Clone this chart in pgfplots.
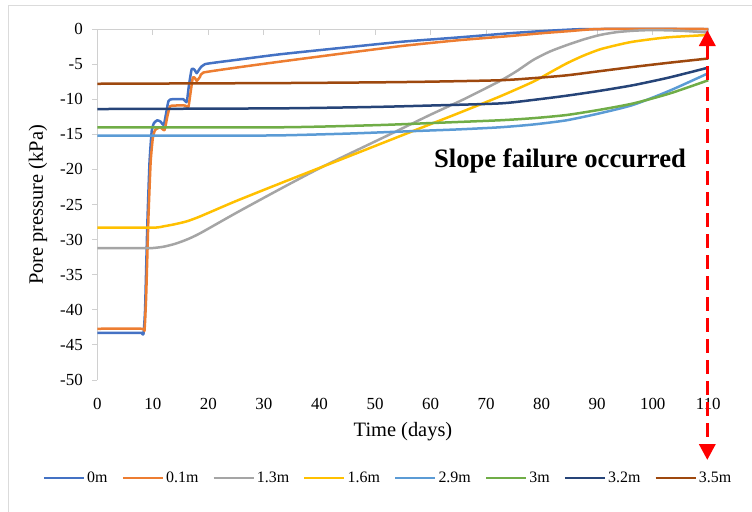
\documentclass[border=0pt]{standalone}
\usepackage{fontspec}
\setmainfont{Liberation Serif}
\usepackage{pgfplots}
\pgfplotsset{compat=1.18}
\usetikzlibrary{arrows.meta}
\definecolor{c0}{RGB}{68,114,196}
\definecolor{c1}{RGB}{237,125,49}
\definecolor{c2}{RGB}{165,165,165}
\definecolor{c3}{RGB}{255,192,0}
\definecolor{c4}{RGB}{91,155,213}
\definecolor{c5}{RGB}{112,173,71}
\definecolor{c6}{RGB}{38,68,120}
\definecolor{c7}{RGB}{158,72,14}
\definecolor{axgray}{RGB}{208,208,208}
\begin{document}
\begin{tikzpicture}
\path[use as bounding box] (0bp,0bp) rectangle (752bp,-512bp);
\draw[draw=black!14, line width=1bp] (8bp,-512bp) -- (8bp,-5bp) -- (752bp,-5bp);
\begin{axis}[
  at={(97.3bp,-380bp)}, anchor=south west,
  scale only axis, width=611bp, height=351bp,
  xmin=0, xmax=110, ymin=-50, ymax=0,
  axis x line*=bottom, axis y line*=left,
  x axis line style={draw=none},
  y axis line style={draw=axgray, line width=1bp},
  xtick={0,10,...,110},
  ytick={-50,-45,...,0},
  yticklabels={-50,-45,-40,-35,-30,-25,-20,-15,-10,-5,0},
  xticklabels={0,10,20,30,40,50,60,70,80,90,100,110},
  tick align=outside, major tick length=5bp,
  ytick style={draw=axgray, line width=1bp},
  xtick style={draw=none},
  xticklabel style={font=\fontsize{17}{20}\selectfont, yshift=-10bp},
  yticklabel style={font=\fontsize{17}{20}\selectfont, xshift=-6bp},
  legend columns=8,
  legend style={draw=none, fill=none, at={(axis description cs:0.4758,-0.279)}, anchor=center,
    font=\fontsize{16}{18}\selectfont, inner sep=0pt,
    /tikz/every even column/.append style={column sep=12bp}},
  legend image code/.code={\draw[#1, line width=2.5bp] (0bp,0bp) -- (40bp,0bp);},
  every axis plot/.append style={line width=2.5bp, line join=round},
  clip=false,
]
\draw[axgray, line width=1bp] (axis cs:0,0) -- (axis cs:110,0);
\pgfplotsinvokeforeach{10,20,30,40,50,60,70,80,90,100,110}{
  \draw[axgray, line width=1bp] (axis cs:#1,0) -- ++(0bp,-5.5bp);
}
\addplot[c0, smooth, tension=0.3] coordinates {
(0,-43.3) (7,-43.3) (8,-43.3) (8.3,-43.5) (8.6,-40) (9,-28) (9.4,-19) (9.8,-14.5) (10.2,-13.4) (10.8,-13.0) (11.4,-13.2) (12.0,-13.6) (12.8,-10.3) (13.5,-10.0) (15.5,-10.0) (16.1,-10.4) (16.5,-8) (17.0,-5.7) (17.5,-5.8) (17.9,-6.3) (18.4,-5.7) (19.4,-5.0) (25,-4.4) (32.9,-3.6) (45,-2.6) (55,-1.8) (65,-1.2) (74.3,-0.6) (80,-0.3) (86,-0.05) (90,0) (110,0)};
\addlegendentry{0m}
\addplot[c1, smooth, tension=0.3] coordinates {
(0,-42.7) (8,-42.7) (8.5,-42.9) (8.8,-38) (9.2,-27) (9.6,-19) (10.0,-15.5) (10.4,-14.4) (11.3,-14.0) (12.1,-14.4) (12.6,-12.5) (13.1,-11.0) (14,-10.9) (15.8,-10.9) (16.4,-11.1) (16.8,-9) (17.2,-6.9) (17.6,-7.0) (17.9,-7.4) (18.5,-6.8) (19.1,-6.2) (25,-5.5) (32.9,-4.65) (45,-3.4) (55,-2.4) (65,-1.6) (74.3,-1.0) (80,-0.6) (85,-0.3) (90.5,0) (110,0)};
\addlegendentry{0.1m}
\addplot[c2, smooth, tension=0.4] coordinates {
(0,-31.2) (8,-31.2) (10,-31.2) (12,-31.0) (14,-30.6) (16.1,-30.0) (18.5,-29.1) (25,-26.2) (32.9,-22.8) (40.6,-19.6) (52.7,-15.0) (60,-12.2) (66,-10.0) (72.5,-7.4) (75.5,-6.0) (78.5,-4.4) (81.5,-3.2) (84.5,-2.3) (87.5,-1.5) (90.5,-0.85) (93.5,-0.45) (96.5,-0.25) (100,-0.15) (105,-0.25) (110,-0.5)};
\addlegendentry{1.3m}
\addplot[c3, smooth, tension=0.4] coordinates {
(0,-28.3) (10,-28.3) (12,-28.1) (14,-27.8) (16.1,-27.4) (18.5,-26.7) (25,-24.5) (32.9,-22.0) (40.6,-19.6) (56.3,-14.7) (65,-12.0) (72.5,-9.6) (78.5,-7.5) (81.5,-6.2) (84.5,-4.9) (87.5,-3.8) (90.5,-2.9) (93.5,-2.3) (96.5,-1.8) (102.5,-1.2) (110,-0.85)};
\addlegendentry{1.6m}
\addplot[c4, smooth, tension=0.4] coordinates {
(0,-15.2) (20,-15.2) (32.9,-15.15) (45,-14.9) (55,-14.6) (65,-14.3) (72.5,-14.0) (78.5,-13.6) (84.5,-13.0) (90.5,-12.0) (96.5,-10.8) (103,-8.8) (110,-6.3)};
\addlegendentry{2.9m}
\addplot[c5, smooth, tension=0.4] coordinates {
(0,-14.0) (32.9,-14.0) (50,-13.7) (60,-13.4) (72.5,-13.0) (78.5,-12.7) (84.5,-12.25) (90.5,-11.5) (96.5,-10.6) (103,-9.2) (110,-7.3)};
\addlegendentry{3m}
\addplot[c6, smooth, tension=0.4] coordinates {
(0,-11.4) (32.9,-11.3) (50,-11.1) (60,-10.9) (72.5,-10.6) (78.5,-10.1) (84.5,-9.5) (90.5,-8.8) (96.5,-8.0) (103,-6.9) (110,-5.5)};
\addlegendentry{3.2m}
\addplot[c7, smooth, tension=0.4] coordinates {
(0,-7.8) (32.9,-7.7) (50,-7.6) (60,-7.5) (72.5,-7.3) (78.5,-7.0) (84.5,-6.6) (90.5,-6.0) (96.5,-5.4) (103,-4.8) (110,-4.2)};
\addlegendentry{3.5m}
\end{axis}
\node[rotate=90, font=\fontsize{20.5}{24}\selectfont] at (38bp,-205bp) {Pore pressure (kPa)};
\node[font=\fontsize{20.5}{24}\selectfont] at (403bp,-432bp) {Time (days)};
\node[font=\bfseries\fontsize{26.7}{30}\selectfont] at (560bp,-161bp) {Slope failure occurred};
\draw[red, line width=3.5bp, dash pattern=on 14bp off 7bp,
  {Triangle[width=16bp,length=16bp]}-{Triangle[width=16bp,length=16bp]}]
  (707.3bp,-30bp) -- (707.3bp,-460bp);
\end{tikzpicture}
\end{document}
